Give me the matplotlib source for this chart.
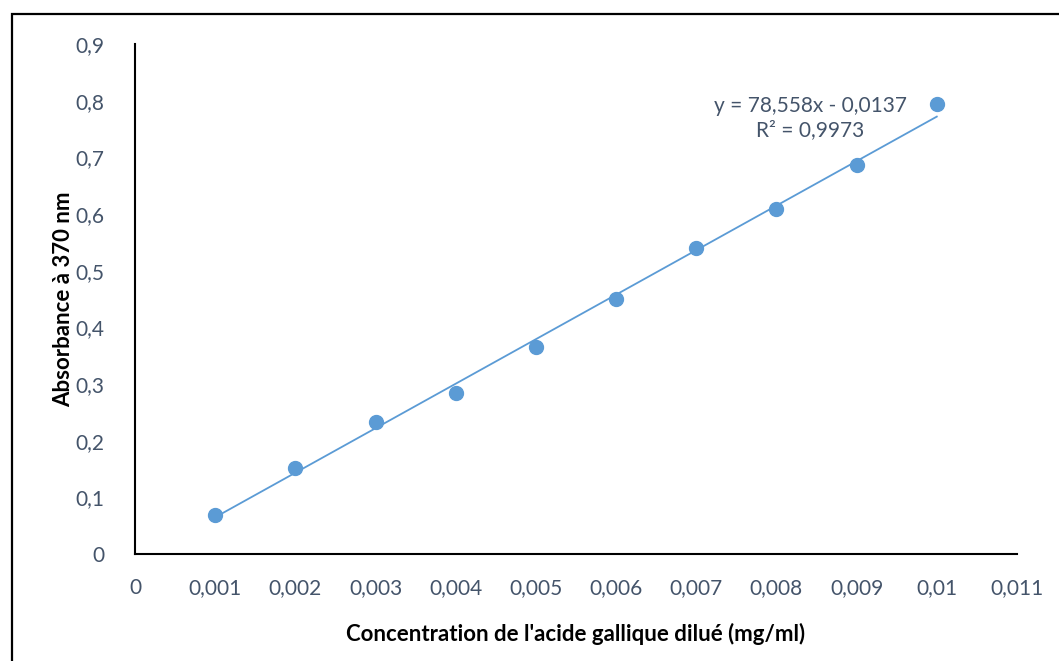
import matplotlib.pyplot as plt
import matplotlib.patches as mpatches
import numpy as np

# Données
concentration = [0.001, 0.002, 0.003, 0.004, 0.005, 0.006, 0.007, 0.008, 0.009, 0.010]
absorbance = [0.069, 0.152, 0.233, 0.284, 0.365, 0.450, 0.540, 0.609, 0.686, 0.794]
pente = 78.558
ordonnee = -0.0137
r2 = 0.9973

x_ticks = [0, 0.001, 0.002, 0.003, 0.004, 0.005, 0.006, 0.007, 0.008, 0.009, 0.01, 0.011]
y_ticks = [0, 0.1, 0.2, 0.3, 0.4, 0.5, 0.6, 0.7, 0.8, 0.9]

bleu = "#5B9BD5"
gris = "#44546A"

plt.rcParams['font.family'] = ['Lato', 'DejaVu Sans']

fig = plt.figure(figsize=(10.59, 6.61), dpi=100)
ax = fig.add_axes([0.1275, 0.1619, 0.8328, 0.7715])

# cadre autour du graphique
fig.patches.append(mpatches.Rectangle((0.0113, -0.2), 2, 0.979 + 0.2,
                                      transform=fig.transFigure, fill=False,
                                      edgecolor="black", linewidth=1.6))

# courbe de tendance
xs = np.array([concentration[0], concentration[-1]])
ax.plot(xs, pente * xs + ordonnee, color=bleu, linewidth=1.3, zorder=2)
ax.plot(concentration, absorbance, 'o', color=bleu, markersize=10, zorder=3)

ax.text(0.00842, 0.77, "y = 78,558x - 0,0137\nR² = 0,9973", ha='center', va='center',
        fontsize=15, color=gris, linespacing=1.25)

ax.set_xlim(0, 0.011)
ax.set_ylim(0, 0.9)
ax.set_xticks(x_ticks)
ax.set_yticks(y_ticks)
ax.set_xticklabels([("%g" % v).replace('.', ',') for v in x_ticks])
ax.set_yticklabels([("%g" % v).replace('.', ',') for v in y_ticks])
ax.tick_params(length=0, labelsize=15, labelcolor=gris)
ax.tick_params(axis='x', pad=17)
ax.tick_params(axis='y', pad=22)
for s in ['top', 'right']:
    ax.spines[s].set_visible(False)
for s in ['left', 'bottom']:
    ax.spines[s].set_linewidth(1.5)
    ax.spines[s].set_color('black')

ax.set_xlabel("Concentration de l'acide gallique dilué (mg/ml)", fontsize=16,
              fontweight='bold', labelpad=18)
ax.set_ylabel("Absorbance à 370 nm", fontsize=16, fontweight='bold', labelpad=1)

fig.savefig("out.png", dpi=100)
